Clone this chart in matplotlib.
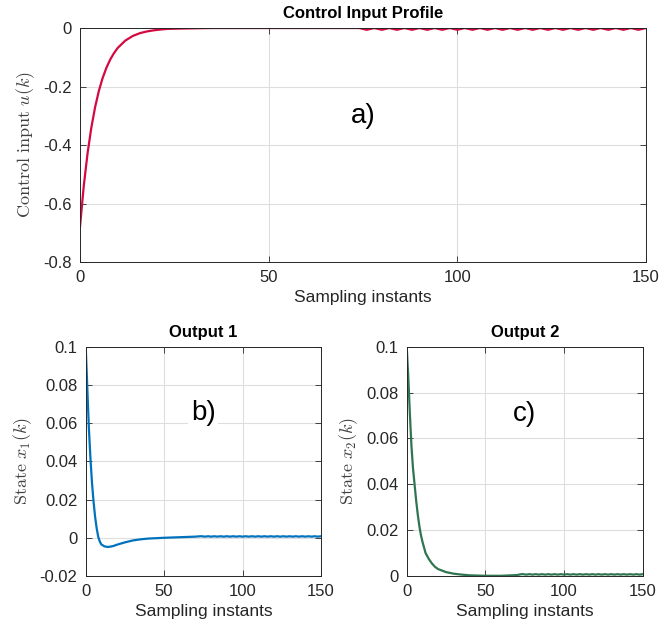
import numpy as np
import matplotlib
matplotlib.use("Agg")
import matplotlib.pyplot as plt

# values (sampling instant -> value)
U_K = [0, 1, 2, 3, 4, 5, 6, 7, 8, 9, 10, 12, 14, 16, 18, 20, 23, 26, 30, 35, 40, 50, 60, 73]
U_VAL = [-0.680, -0.540, -0.429, -0.341, -0.271, -0.215, -0.171, -0.136, -0.108, -0.086,
         -0.068, -0.043, -0.027, -0.017, -0.011, -0.007, -0.003, -0.002, -0.001, 0.0,
         0.0, 0.0, 0.0, 0.0]
# small ripple on the input from k = 74 to 150
U_RIPPLE = [0.0, -0.003, -0.006, -0.003,  0.0, -0.003, -0.006, -0.003,
            0.0, -0.003, -0.006, -0.003,  0.0, -0.003, -0.006, -0.003,
            0.0, -0.003, -0.006, -0.003,  0.0, -0.003, -0.006, -0.003,
            0.0, -0.003, -0.006, -0.003,  0.0, -0.003, -0.006, -0.003,
            0.0, -0.003, -0.006, -0.003,  0.0, -0.003, -0.006, -0.003,
            0.0, -0.003, -0.006, -0.003,  0.0, -0.003, -0.006, -0.003,
            0.0, -0.003, -0.006, -0.003,  0.0, -0.003, -0.006, -0.003,
            0.0, -0.003, -0.006, -0.003,  0.0, -0.003, -0.006, -0.003,
            0.0, -0.003, -0.006, -0.003,  0.0, -0.003, -0.006, -0.003,
            0.0, -0.003, -0.006, -0.003,  0.0]

X1_K = [0, 1, 2, 3, 4, 5, 6, 7, 8, 9, 10, 12, 14, 16, 18, 20, 25, 30, 35, 40, 50, 60, 70, 73]
X1_VAL = [0.100, 0.079, 0.058, 0.042, 0.029, 0.019, 0.011, 0.005, 0.0005, -0.002,
          -0.0035, -0.0045, -0.0048, -0.0046, -0.0042, -0.0036, -0.0024, -0.0014,
          -0.0008, -0.0004, 0.0, 0.0003, 0.0006, 0.0008]

X2_K = [0, 1, 2, 3, 4, 5, 6, 7, 8, 9, 10, 12, 14, 16, 18, 20, 25, 30, 35, 40, 50, 60, 70, 73]
X2_VAL = [0.100, 0.087, 0.071, 0.057, 0.047, 0.040, 0.033, 0.027, 0.022, 0.018,
          0.015, 0.010, 0.0075, 0.0055, 0.004, 0.003, 0.0017, 0.001, 0.0006, 0.0003,
          0.0001, 0.0001, 0.0004, 0.0008]
# tiny ripple on both states from k = 74 to 150
X_RIPPLE = [0.0008, 0.0007, 0.0006, 0.0007] * 19 + [0.0008]
RIPPLE_K = list(range(74, 151))

U_TICKS = [0, -0.2, -0.4, -0.6, -0.8]
U_TICK_LABELS = ["0", "-0.2", "-0.4", "-0.6", "-0.8"]
X1_TICKS = [0.1, 0.08, 0.06, 0.04, 0.02, 0, -0.02]
X1_TICK_LABELS = ["0.1", "0.08", "0.06", "0.04", "0.02", "0", "-0.02"]
X2_TICKS = [0.1, 0.08, 0.06, 0.04, 0.02, 0]
X2_TICK_LABELS = ["0.1", "0.08", "0.06", "0.04", "0.02", "0"]
K_TICKS = [0, 50, 100, 150]

RED = "#D5093F"
BLUE = "#0072BD"
GREEN = "#2F7650"
AX_COL = "#262626"

plt.rcParams["font.family"] = ["Liberation Sans", "DejaVu Sans"]
plt.rcParams["mathtext.fontset"] = "cm"


def style_axes(ax, yticks, ylabels, ylim):
    ax.set_xlim(0, 150)
    ax.set_ylim(*ylim)
    ax.set_xticks(K_TICKS)
    ax.set_xticklabels([str(t) for t in K_TICKS])
    ax.set_yticks(yticks)
    ax.set_yticklabels(ylabels)
    ax.grid(True, color="#DEDEDE", linewidth=0.8)
    ax.set_axisbelow(True)
    ax.tick_params(direction="in", top=True, right=True, length=4,
                   labelsize=12, colors=AX_COL, width=0.6, pad=6)
    for s in ax.spines.values():
        s.set_color(AX_COL)
        s.set_linewidth(0.7)
    ax.set_xlabel("Sampling instants", fontsize=12.5, color=AX_COL, labelpad=3)


fig = plt.figure(figsize=(6.71, 6.30), dpi=100)

ax_u = fig.add_axes([0.1192, 0.5841, 0.8435, 0.3714])
ax_u.plot(U_K + RIPPLE_K, U_VAL + U_RIPPLE, color=RED, linewidth=1.6)
style_axes(ax_u, U_TICKS, U_TICK_LABELS, (-0.8, 0))
ax_u.set_ylabel(r"$\mathrm{Control\ input}\ u(k)$", fontsize=13, color="#404040", labelpad=4)
ax_u.set_title("Control Input Profile", fontsize=12, fontweight="bold", pad=7)
ax_u.text(75, -0.3, "a)", fontsize=20, ha="center", va="center", color="black")

ax_1 = fig.add_axes([0.1277, 0.0857, 0.3507, 0.3640])
ax_1.plot(X1_K + RIPPLE_K, X1_VAL + X_RIPPLE, color=BLUE, linewidth=1.6)
style_axes(ax_1, X1_TICKS, X1_TICK_LABELS, (-0.02, 0.1))
ax_1.set_ylabel(r"$\mathrm{State}\ x_1(k)$", fontsize=13, color="#404040", labelpad=4)
ax_1.set_title("Output 1", fontsize=12, fontweight="bold", pad=7)
ax_1.text(75, 0.0655, "b)", fontsize=20, ha="center", va="center", color="black",
          bbox=dict(facecolor="white", edgecolor="none", pad=2))

ax_2 = fig.add_axes([0.6061, 0.0857, 0.3517, 0.3640])
ax_2.plot(X2_K + RIPPLE_K, X2_VAL + X_RIPPLE, color=GREEN, linewidth=1.6)
style_axes(ax_2, X2_TICKS, X2_TICK_LABELS, (0, 0.1))
ax_2.set_ylabel(r"$\mathrm{State}\ x_2(k)$", fontsize=13, color="#404040", labelpad=4)
ax_2.set_title("Output 2", fontsize=12, fontweight="bold", pad=7)
ax_2.text(75, 0.0705, "c)", fontsize=20, ha="center", va="center", color="black",
          bbox=dict(facecolor="white", edgecolor="none", pad=2))

fig.savefig("out.png", dpi=100)
